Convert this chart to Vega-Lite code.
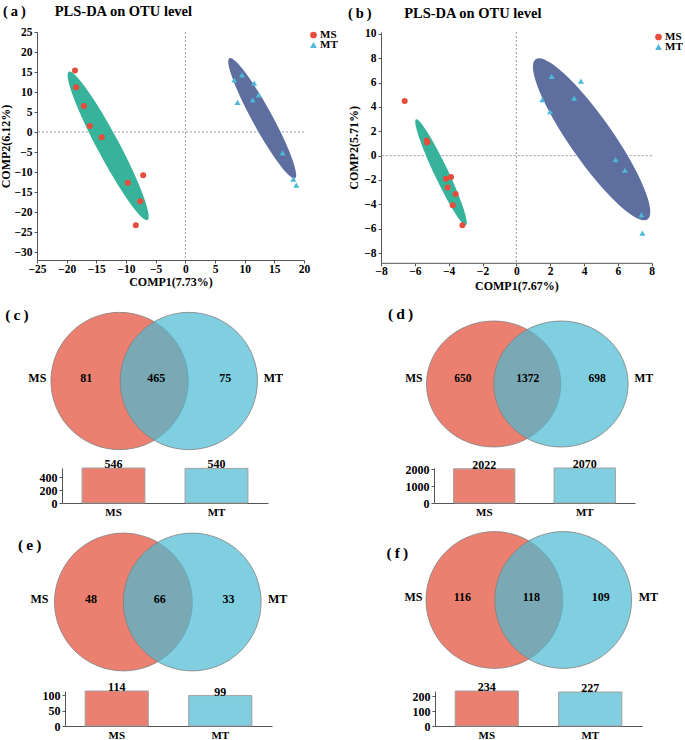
{
  "$schema": "https://vega.github.io/schema/vega-lite/v6.json",
  "background": "white",
  "padding": {"left": -1, "top": 4, "right": 0, "bottom": 0},
  "config": {
    "view": {"stroke": null},
    "font": "Liberation Serif",
    "axis": {"labelFont": "Liberation Serif", "titleFont": "Liberation Serif", "labelFontWeight": "bold", "titleFontWeight": "bold", "labelColor": "#000", "titleColor": "#000", "domainColor": "#555", "tickColor": "#555", "tickSize": 3, "labelPadding": 2, "grid": false, "labelFontSize": 11.5, "titleFontSize": 12, "labelOverlap": false, "labelFlush": false},
    "legend": {"labelFont": "Liberation Serif", "labelFontWeight": "bold", "labelFontSize": 11, "labelColor": "#000"},
    "title": {"font": "Liberation Serif", "fontWeight": "bold", "color": "#000"},
    "text": {"font": "Liberation Serif", "fontWeight": "bold", "fontSize": 12, "color": "#000"}
  },
  "resolve": {"scale": {"color": "independent", "shape": "independent"}, "legend": {"color": "independent", "shape": "independent"}},
  "spacing": 0,
  "vconcat": [
    {
      "bounds": "flush",
      "spacing": 0,
      "resolve": {"scale": {"color": "independent", "shape": "independent"}, "legend": {"color": "independent", "shape": "independent"}},
      "hconcat": [
        {"width": 36, "height": 1, "data": {"values": []}, "mark": "point"},
        {
          "width": 267, "height": 228,
          "title": {"text": "(\u2009a\u2009)\u00a0\u00a0\u00a0\u00a0\u00a0\u00a0\u00a0\u00a0PLS-DA on OTU level", "anchor": "start", "frame": "group", "dx": -34, "dy": 19.5, "offset": 12, "fontSize": 14.5, "baseline": "bottom"},
          "layer": [
            {"data": {"values": [{"ref": 0}]}, "mark": {"type": "rule", "strokeDash": [2, 2], "color": "#9a9a9a", "strokeWidth": 1},
             "encoding": {"x": {"datum": 0, "type": "quantitative", "scale": {"domain": [-25, 20], "nice": false, "zero": false}, "axis": {"values": [-25, -20, -15, -10, -5, 0, 5, 10, 15, 20], "title": "COMP1(7.73%)", "titlePadding": 2, "labelPadding": 0, "labelOverlap": false}}}},
            {"data": {"values": [{"ref": 0}]}, "mark": {"type": "rule", "strokeDash": [2, 2], "color": "#9a9a9a", "strokeWidth": 1},
             "encoding": {"y": {"datum": 0, "type": "quantitative", "scale": {"domain": [-32, 25], "nice": false, "zero": false}, "axis": {"values": [-30, -25, -20, -15, -10, -5, 0, 5, 10, 15, 20, 25], "title": "COMP2(6.12%)", "titlePadding": 1, "labelOverlap": false}}}},
            {"data": {"values": [{"group": "MS", "comp1": -13.0, "comp2": -3.47}]},
             "mark": {"type": "point", "shape": "M -1 0 A 1 0.131 0 1 0 1 0 A 1 0.131 0 1 0 -1 0 Z", "size": 28224, "angle": 62, "filled": true, "fill": "#36B39A", "opacity": 1},
             "encoding": {
               "x": {"field": "comp1", "type": "quantitative", "scale": {"domain": [-25, 20], "nice": false, "zero": false}, "axis": {"values": [-25, -20, -15, -10, -5, 0, 5, 10, 15, 20], "title": "COMP1(7.73%)", "titlePadding": 2, "labelPadding": 0, "labelOverlap": false}},
               "y": {"field": "comp2", "type": "quantitative", "scale": {"domain": [-32, 25], "nice": false, "zero": false}, "axis": {"values": [-30, -25, -20, -15, -10, -5, 0, 5, 10, 15, 20, 25], "title": "COMP2(6.12%)", "titlePadding": 1, "labelOverlap": false}}
             }},
            {"data": {"values": [{"group": "MT", "comp1": 12.96, "comp2": 3.43}]},
             "mark": {"type": "point", "shape": "M -1 0 A 1 0.146 0 1 0 1 0 A 1 0.146 0 1 0 -1 0 Z", "size": 18714, "angle": 61.3, "filled": true, "fill": "#5D6E9F", "opacity": 1},
             "encoding": {
               "x": {"field": "comp1", "type": "quantitative", "scale": {"domain": [-25, 20], "nice": false, "zero": false}, "axis": {"values": [-25, -20, -15, -10, -5, 0, 5, 10, 15, 20], "title": "COMP1(7.73%)", "titlePadding": 2, "labelPadding": 0, "labelOverlap": false}},
               "y": {"field": "comp2", "type": "quantitative", "scale": {"domain": [-32, 25], "nice": false, "zero": false}, "axis": {"values": [-30, -25, -20, -15, -10, -5, 0, 5, 10, 15, 20, 25], "title": "COMP2(6.12%)", "titlePadding": 1, "labelOverlap": false}}
             }},
            {"data": {"values": [
               {"group": "MS", "comp1": -18.6, "comp2": 15.4}, {"group": "MS", "comp1": -18.4, "comp2": 11.2}, {"group": "MS", "comp1": -17.1, "comp2": 6.5},
               {"group": "MS", "comp1": -16.1, "comp2": 1.5}, {"group": "MS", "comp1": -14.1, "comp2": -1.3}, {"group": "MS", "comp1": -9.7, "comp2": -12.7},
               {"group": "MS", "comp1": -7.1, "comp2": -10.8}, {"group": "MS", "comp1": -7.6, "comp2": -17.3}, {"group": "MS", "comp1": -8.35, "comp2": -23.3},
               {"group": "MT", "comp1": 8.26, "comp2": 13.0}, {"group": "MT", "comp1": 9.55, "comp2": 14.3}, {"group": "MT", "comp1": 11.6, "comp2": 12.2},
               {"group": "MT", "comp1": 8.8, "comp2": 7.4}, {"group": "MT", "comp1": 11.35, "comp2": 8.0}, {"group": "MT", "comp1": 12.37, "comp2": 9.27},
               {"group": "MT", "comp1": 16.4, "comp2": -5.2}, {"group": "MT", "comp1": 18.2, "comp2": -11.8}, {"group": "MT", "comp1": 18.7, "comp2": -13.3}
             ]},
             "mark": {"type": "point", "filled": true, "opacity": 1, "size": 36},
             "encoding": {
               "x": {"field": "comp1", "type": "quantitative", "scale": {"domain": [-25, 20], "nice": false, "zero": false}, "axis": {"values": [-25, -20, -15, -10, -5, 0, 5, 10, 15, 20], "title": "COMP1(7.73%)", "titlePadding": 2, "labelPadding": 0, "labelOverlap": false}},
               "y": {"field": "comp2", "type": "quantitative", "scale": {"domain": [-32, 25], "nice": false, "zero": false}, "axis": {"values": [-30, -25, -20, -15, -10, -5, 0, 5, 10, 15, 20, 25], "title": "COMP2(6.12%)", "titlePadding": 1, "labelOverlap": false}},
               "color": {"field": "group", "type": "nominal", "scale": {"domain": ["MS", "MT"], "range": ["#E84C3D", "#4DB8D9"]}, "legend": {"orient": "none", "legendX": 271, "legendY": -2, "title": null, "symbolSize": 45, "clipHeight": 10, "rowPadding": -1, "padding": 0, "labelOffset": 1}},
               "shape": {"field": "group", "type": "nominal", "scale": {"domain": ["MS", "MT"], "range": ["circle", "triangle-up"]}, "legend": {"orient": "none", "legendX": 271, "legendY": -2, "title": null, "symbolSize": 45, "clipHeight": 10, "rowPadding": -1, "padding": 0, "labelOffset": 1}}
             }}
          ]
        },
        {"width": 76.3, "height": 1, "data": {"values": []}, "mark": "point"},
        {
          "width": 270.7, "height": 230.8,
          "title": {"text": "(\u2009b\u2009)\u00a0\u00a0\u00a0\u00a0\u00a0\u00a0\u00a0\u00a0\u00a0PLS-DA on OTU level", "anchor": "start", "frame": "group", "dx": -33, "dy": 19.5, "offset": 12, "fontSize": 14.5, "baseline": "bottom"},
          "layer": [
            {"data": {"values": [{"ref": 0}]}, "mark": {"type": "rule", "strokeDash": [2, 2], "color": "#9a9a9a", "strokeWidth": 1},
             "encoding": {"x": {"datum": 0, "type": "quantitative", "scale": {"domain": [-8, 8], "nice": false, "zero": false}, "axis": {"values": [-8, -6, -4, -2, 0, 2, 4, 6, 8], "title": "COMP1(7.67%)", "titlePadding": 3, "labelPadding": 0, "labelOverlap": false}}}},
            {"data": {"values": [{"ref": 0}]}, "mark": {"type": "rule", "strokeDash": [2, 2], "color": "#9a9a9a", "strokeWidth": 1},
             "encoding": {"y": {"datum": 0, "type": "quantitative", "scale": {"domain": [-8.8, 10.15], "nice": false, "zero": false}, "axis": {"values": [-8, -6, -4, -2, 0, 2, 4, 6, 8, 10], "title": "COMP2(5.71%)", "titlePadding": 3, "labelOverlap": false}}}},
            {"data": {"values": [{"group": "MS", "comp1": -4.45, "comp2": -1.37}]},
             "mark": {"type": "point", "shape": "M -1 0 A 1 0.119 0 1 0 1 0 A 1 0.119 0 1 0 -1 0 Z", "size": 13736, "angle": 64.7, "filled": true, "fill": "#36B39A", "opacity": 1},
             "encoding": {
               "x": {"field": "comp1", "type": "quantitative", "scale": {"domain": [-8, 8], "nice": false, "zero": false}, "axis": {"values": [-8, -6, -4, -2, 0, 2, 4, 6, 8], "title": "COMP1(7.67%)", "titlePadding": 3, "labelPadding": 0, "labelOverlap": false}},
               "y": {"field": "comp2", "type": "quantitative", "scale": {"domain": [-8.8, 10.15], "nice": false, "zero": false}, "axis": {"values": [-8, -6, -4, -2, 0, 2, 4, 6, 8, 10], "title": "COMP2(5.71%)", "titlePadding": 3, "labelOverlap": false}}
             }},
            {"data": {"values": [{"group": "MT", "comp1": 4.45, "comp2": 1.34}]},
             "mark": {"type": "point", "shape": "M -1 0 A 1 0.22 0 1 0 1 0 A 1 0.22 0 1 0 -1 0 Z", "size": 38181, "angle": 55, "filled": true, "fill": "#5D6E9F", "opacity": 1},
             "encoding": {
               "x": {"field": "comp1", "type": "quantitative", "scale": {"domain": [-8, 8], "nice": false, "zero": false}, "axis": {"values": [-8, -6, -4, -2, 0, 2, 4, 6, 8], "title": "COMP1(7.67%)", "titlePadding": 3, "labelPadding": 0, "labelOverlap": false}},
               "y": {"field": "comp2", "type": "quantitative", "scale": {"domain": [-8.8, 10.15], "nice": false, "zero": false}, "axis": {"values": [-8, -6, -4, -2, 0, 2, 4, 6, 8, 10], "title": "COMP2(5.71%)", "titlePadding": 3, "labelOverlap": false}}
             }},
            {"data": {"values": [
               {"group": "MS", "comp1": -6.6, "comp2": 4.48}, {"group": "MS", "comp1": -5.3, "comp2": 1.25}, {"group": "MS", "comp1": -5.27, "comp2": 1.07},
               {"group": "MS", "comp1": -4.16, "comp2": -1.89}, {"group": "MS", "comp1": -3.86, "comp2": -1.75}, {"group": "MS", "comp1": -4.06, "comp2": -2.62},
               {"group": "MS", "comp1": -3.59, "comp2": -3.15}, {"group": "MS", "comp1": -3.76, "comp2": -4.07}, {"group": "MS", "comp1": -3.19, "comp2": -5.71},
               {"group": "MT", "comp1": 2.09, "comp2": 6.5}, {"group": "MT", "comp1": 3.82, "comp2": 6.11}, {"group": "MT", "comp1": 1.54, "comp2": 4.59},
               {"group": "MT", "comp1": 3.41, "comp2": 4.72}, {"group": "MT", "comp1": 1.99, "comp2": 3.6}, {"group": "MT", "comp1": 5.87, "comp2": -0.33},
               {"group": "MT", "comp1": 6.42, "comp2": -1.2}, {"group": "MT", "comp1": 7.39, "comp2": -4.87}, {"group": "MT", "comp1": 7.45, "comp2": -6.37}
             ]},
             "mark": {"type": "point", "filled": true, "opacity": 1, "size": 36},
             "encoding": {
               "x": {"field": "comp1", "type": "quantitative", "scale": {"domain": [-8, 8], "nice": false, "zero": false}, "axis": {"values": [-8, -6, -4, -2, 0, 2, 4, 6, 8], "title": "COMP1(7.67%)", "titlePadding": 3, "labelPadding": 0, "labelOverlap": false}},
               "y": {"field": "comp2", "type": "quantitative", "scale": {"domain": [-8.8, 10.15], "nice": false, "zero": false}, "axis": {"values": [-8, -6, -4, -2, 0, 2, 4, 6, 8, 10], "title": "COMP2(5.71%)", "titlePadding": 3, "labelOverlap": false}},
               "color": {"field": "group", "type": "nominal", "scale": {"domain": ["MS", "MT"], "range": ["#E84C3D", "#4DB8D9"]}, "legend": {"orient": "none", "legendX": 272, "legendY": 0, "title": null, "symbolSize": 45, "clipHeight": 10, "rowPadding": -1, "padding": 0, "labelOffset": 1}},
               "shape": {"field": "group", "type": "nominal", "scale": {"domain": ["MS", "MT"], "range": ["circle", "triangle-up"]}, "legend": {"orient": "none", "legendX": 272, "legendY": 0, "title": null, "symbolSize": 45, "clipHeight": 10, "rowPadding": -1, "padding": 0, "labelOffset": 1}}
             }}
          ]
        }
      ]
    },
    {"width": 1, "height": 14.9, "data": {"values": []}, "mark": "point"},
    {
      "bounds": "flush",
      "spacing": 0,
      "hconcat": [
        {"width": 83.7, "height": 1, "data": {"values": []}, "mark": "point"},
        {
          "width": 138.4, "height": 140,
          "title": {"text": "(\u2009c\u2009)", "anchor": "start", "frame": "group", "dx": -79.7, "dy": 20, "offset": 0, "baseline": "middle", "fontSize": 15.5},
          "data": {"values": [{"region": "MS", "count": 81}, {"region": "both", "count": 465}, {"region": "MT", "count": 75}]},
          "encoding": {"x": {"field": "region", "type": "nominal", "scale": {"type": "point", "domain": ["MS", "both", "MT"], "padding": 1}, "axis": null}},
          "layer": [
            {"transform": [{"filter": "datum.region === 'MS'"}], "mark": {"type": "point", "shape": "circle", "filled": true, "size": 18851, "fill": "#EC8070", "fillOpacity": 1, "opacity": 1, "stroke": "#808080", "strokeWidth": 0.8}},
            {"transform": [{"filter": "datum.region === 'MT'"}], "mark": {"type": "point", "shape": "circle", "filled": true, "size": 18851, "fill": "#4ABAD3", "fillOpacity": 0.7, "opacity": 1, "stroke": "#808080", "strokeWidth": 0.8}},
            {"transform": [{"filter": "datum.region === 'MS'"}], "mark": {"type": "text", "dx": -82.3, "dy": -3}, "encoding": {"text": {"field": "region", "type": "nominal"}}},
            {"transform": [{"filter": "datum.region === 'MS'"}], "mark": {"type": "text", "dx": -33.3, "dy": -3}, "encoding": {"text": {"field": "count", "type": "quantitative", "format": "d"}}},
            {"transform": [{"filter": "datum.region === 'both'"}], "mark": {"type": "text", "dx": 2, "dy": -3}, "encoding": {"text": {"field": "count", "type": "quantitative", "format": "d"}}},
            {"transform": [{"filter": "datum.region === 'MT'"}], "mark": {"type": "text", "dx": 36.5, "dy": -3}, "encoding": {"text": {"field": "count", "type": "quantitative", "format": "d"}}},
            {"transform": [{"filter": "datum.region === 'MT'"}], "mark": {"type": "text", "dx": 84.5, "dy": -3}, "encoding": {"text": {"field": "region", "type": "nominal"}}}
          ]
        },
        {"width": 235.75, "height": 1, "data": {"values": []}, "mark": "point"},
        {
          "width": 134.6, "height": 146,
          "title": {"text": "(\u2009d\u2009)", "anchor": "start", "frame": "group", "dx": -72, "dy": 18.8, "offset": 0, "baseline": "middle", "fontSize": 15.5},
          "data": {"values": [{"region": "MS", "count": 650}, {"region": "both", "count": 1372}, {"region": "MT", "count": 698}]},
          "encoding": {"x": {"field": "region", "type": "nominal", "scale": {"type": "point", "domain": ["MS", "both", "MT"], "padding": 1}, "axis": null}},
          "layer": [
            {"transform": [{"filter": "datum.region === 'MS'"}], "mark": {"type": "point", "shape": "M -1 0 A 1 0.938 0 1 0 1 0 A 1 0.938 0 1 0 -1 0 Z", "filled": true, "size": 18036, "fill": "#EC8070", "fillOpacity": 1, "opacity": 1, "stroke": "#808080", "strokeWidth": 0.8}},
            {"transform": [{"filter": "datum.region === 'MT'"}], "mark": {"type": "point", "shape": "M -1 0 A 1 0.938 0 1 0 1 0 A 1 0.938 0 1 0 -1 0 Z", "filled": true, "size": 18036, "fill": "#4ABAD3", "fillOpacity": 0.7, "opacity": 1, "stroke": "#808080", "strokeWidth": 0.8}},
            {"transform": [{"filter": "datum.region === 'MS'"}], "mark": {"type": "text", "dx": -79.8, "dy": -5, "fontSize": 11.5}, "encoding": {"text": {"field": "region", "type": "nominal"}}},
            {"transform": [{"filter": "datum.region === 'MS'"}], "mark": {"type": "text", "dx": -30.8, "dy": -5, "fontSize": 11.5}, "encoding": {"text": {"field": "count", "type": "quantitative", "format": "d"}}},
            {"transform": [{"filter": "datum.region === 'both'"}], "mark": {"type": "text", "dx": 0.5, "dy": -5, "fontSize": 11.5}, "encoding": {"text": {"field": "count", "type": "quantitative", "format": "d"}}},
            {"transform": [{"filter": "datum.region === 'MT'"}], "mark": {"type": "text", "dx": 36.2, "dy": -5, "fontSize": 11.5}, "encoding": {"text": {"field": "count", "type": "quantitative", "format": "d"}}},
            {"transform": [{"filter": "datum.region === 'MT'"}], "mark": {"type": "text", "dx": 82.9, "dy": -5, "fontSize": 11.5}, "encoding": {"text": {"field": "region", "type": "nominal"}}}
          ]
        }
      ]
    },
    {"width": 1, "height": 1, "data": {"values": []}, "mark": "point"},
    {
      "bounds": "flush",
      "spacing": 0,
      "hconcat": [
        {"width": 61, "height": 1, "data": {"values": []}, "mark": "point"},
        {
          "width": 206, "height": 35,
          "data": {"values": [{"set": "MS", "total": 546}, {"set": "MT", "total": 540}]},
          "encoding": {
            "x": {"field": "set", "type": "nominal", "scale": {"paddingInner": 0.39, "paddingOuter": 0.195}, "axis": {"title": null, "labelAngle": 0, "ticks": false, "labelFontSize": 11, "labelPadding": 3}},
            "y": {"field": "total", "type": "quantitative", "scale": {"domain": [0, 546], "nice": false}, "axis": {"title": null, "values": [0, 200, 400], "format": "d", "labelFontSize": 12}}
          },
          "layer": [
            {"mark": {"type": "bar", "stroke": "#a0a0a0", "strokeWidth": 1}, "encoding": {"fill": {"field": "set", "type": "nominal", "scale": {"domain": ["MS", "MT"], "range": ["#EC8070", "#80CEE0"]}, "legend": null}}},
            {"mark": {"type": "text", "baseline": "alphabetic", "dy": 0}, "encoding": {"text": {"field": "total", "type": "quantitative", "format": "d"}}}
          ]
        },
        {"width": 165.7, "height": 1, "data": {"values": []}, "mark": "point"},
        {
          "width": 201, "height": 35,
          "data": {"values": [{"set": "MS", "total": 2022}, {"set": "MT", "total": 2070}]},
          "encoding": {
            "x": {"field": "set", "type": "nominal", "scale": {"paddingInner": 0.39, "paddingOuter": 0.195}, "axis": {"title": null, "labelAngle": 0, "ticks": false, "labelFontSize": 11, "labelPadding": 3}},
            "y": {"field": "total", "type": "quantitative", "scale": {"domain": [0, 2070], "nice": false}, "axis": {"title": null, "values": [0, 1000, 2000], "format": "d", "labelFontSize": 12}}
          },
          "layer": [
            {"mark": {"type": "bar", "stroke": "#a0a0a0", "strokeWidth": 1}, "encoding": {"fill": {"field": "set", "type": "nominal", "scale": {"domain": ["MS", "MT"], "range": ["#EC8070", "#80CEE0"]}, "legend": null}}},
            {"mark": {"type": "text", "baseline": "alphabetic", "dy": 0}, "encoding": {"text": {"field": "total", "type": "quantitative", "format": "d"}}}
          ]
        }
      ]
    },
    {"width": 1, "height": 13, "data": {"values": []}, "mark": "point"},
    {
      "bounds": "flush",
      "spacing": 0,
      "hconcat": [
        {"width": 87.3, "height": 1, "data": {"values": []}, "mark": "point"},
        {
          "width": 137.6, "height": 140,
          "title": {"text": "(\u2009e\u2009)", "anchor": "start", "frame": "group", "dx": -71, "dy": 29, "offset": 0, "baseline": "middle", "fontSize": 15.5},
          "data": {"values": [{"region": "MS", "count": 48}, {"region": "both", "count": 66}, {"region": "MT", "count": 33}]},
          "encoding": {"x": {"field": "region", "type": "nominal", "scale": {"type": "point", "domain": ["MS", "both", "MT"], "padding": 1}, "axis": null}},
          "layer": [
            {"transform": [{"filter": "datum.region === 'MS'"}], "mark": {"type": "point", "shape": "circle", "filled": true, "size": 18989, "fill": "#EC8070", "fillOpacity": 1, "opacity": 1, "stroke": "#808080", "strokeWidth": 0.8}},
            {"transform": [{"filter": "datum.region === 'MT'"}], "mark": {"type": "point", "shape": "circle", "filled": true, "size": 18989, "fill": "#4ABAD3", "fillOpacity": 0.7, "opacity": 1, "stroke": "#808080", "strokeWidth": 0.8}},
            {"transform": [{"filter": "datum.region === 'MS'"}], "mark": {"type": "text", "dx": -84, "dy": -2.8}, "encoding": {"text": {"field": "region", "type": "nominal"}}},
            {"transform": [{"filter": "datum.region === 'MS'"}], "mark": {"type": "text", "dx": -32.4, "dy": -2.8}, "encoding": {"text": {"field": "count", "type": "quantitative", "format": "d"}}},
            {"transform": [{"filter": "datum.region === 'both'"}], "mark": {"type": "text", "dx": 1.9, "dy": -2.8}, "encoding": {"text": {"field": "count", "type": "quantitative", "format": "d"}}},
            {"transform": [{"filter": "datum.region === 'MT'"}], "mark": {"type": "text", "dx": 36.2, "dy": -2.8}, "encoding": {"text": {"field": "count", "type": "quantitative", "format": "d"}}},
            {"transform": [{"filter": "datum.region === 'MT'"}], "mark": {"type": "text", "dx": 85.5, "dy": -2.8}, "encoding": {"text": {"field": "region", "type": "nominal"}}}
          ]
        },
        {"width": 232.7, "height": 1, "data": {"values": []}, "mark": "point"},
        {
          "width": 137.6, "height": 136,
          "title": {"text": "(\u2009f\u2009)", "anchor": "start", "frame": "group", "dx": -73.6, "dy": 38, "offset": 0, "baseline": "middle", "fontSize": 15.5},
          "data": {"values": [{"region": "MS", "count": 116}, {"region": "both", "count": 118}, {"region": "MT", "count": 109}]},
          "encoding": {"x": {"field": "region", "type": "nominal", "scale": {"type": "point", "domain": ["MS", "both", "MT"], "padding": 1}, "axis": null}},
          "layer": [
            {"transform": [{"filter": "datum.region === 'MS'"}], "mark": {"type": "point", "shape": "circle", "filled": true, "size": 18714, "fill": "#EC8070", "fillOpacity": 1, "opacity": 1, "stroke": "#808080", "strokeWidth": 0.8}},
            {"transform": [{"filter": "datum.region === 'MT'"}], "mark": {"type": "point", "shape": "circle", "filled": true, "size": 18714, "fill": "#4ABAD3", "fillOpacity": 0.7, "opacity": 1, "stroke": "#808080", "strokeWidth": 0.8}},
            {"transform": [{"filter": "datum.region === 'MS'"}], "mark": {"type": "text", "dx": -81, "dy": -3.5}, "encoding": {"text": {"field": "region", "type": "nominal"}}},
            {"transform": [{"filter": "datum.region === 'MS'"}], "mark": {"type": "text", "dx": -32, "dy": -3.5}, "encoding": {"text": {"field": "count", "type": "quantitative", "format": "d"}}},
            {"transform": [{"filter": "datum.region === 'both'"}], "mark": {"type": "text", "dx": 2.6, "dy": -3.5}, "encoding": {"text": {"field": "count", "type": "quantitative", "format": "d"}}},
            {"transform": [{"filter": "datum.region === 'MT'"}], "mark": {"type": "text", "dx": 37.5, "dy": -3.5}, "encoding": {"text": {"field": "count", "type": "quantitative", "format": "d"}}},
            {"transform": [{"filter": "datum.region === 'MT'"}], "mark": {"type": "text", "dx": 85.2, "dy": -3.5}, "encoding": {"text": {"field": "region", "type": "nominal"}}}
          ]
        }
      ]
    },
    {"width": 1, "height": 8, "data": {"values": []}, "mark": "point"},
    {
      "bounds": "flush",
      "spacing": 0,
      "hconcat": [
        {"width": 63.3, "height": 1, "data": {"values": []}, "mark": "point"},
        {
          "width": 207, "height": 35,
          "data": {"values": [{"set": "MS", "total": 114}, {"set": "MT", "total": 99}]},
          "encoding": {
            "x": {"field": "set", "type": "nominal", "scale": {"paddingInner": 0.39, "paddingOuter": 0.195}, "axis": {"title": null, "labelAngle": 0, "ticks": false, "labelFontSize": 11, "labelPadding": 3}},
            "y": {"field": "total", "type": "quantitative", "scale": {"domain": [0, 114], "nice": false}, "axis": {"title": null, "values": [0, 50, 100], "format": "d", "labelFontSize": 12}}
          },
          "layer": [
            {"mark": {"type": "bar", "stroke": "#a0a0a0", "strokeWidth": 1}, "encoding": {"fill": {"field": "set", "type": "nominal", "scale": {"domain": ["MS", "MT"], "range": ["#EC8070", "#80CEE0"]}, "legend": null}}},
            {"mark": {"type": "text", "baseline": "alphabetic", "dy": 0}, "encoding": {"text": {"field": "total", "type": "quantitative", "format": "d"}}}
          ]
        },
        {"width": 162.4, "height": 1, "data": {"values": []}, "mark": "point"},
        {
          "width": 207, "height": 35,
          "data": {"values": [{"set": "MS", "total": 234}, {"set": "MT", "total": 227}]},
          "encoding": {
            "x": {"field": "set", "type": "nominal", "scale": {"paddingInner": 0.39, "paddingOuter": 0.195}, "axis": {"title": null, "labelAngle": 0, "ticks": false, "labelFontSize": 11, "labelPadding": 3}},
            "y": {"field": "total", "type": "quantitative", "scale": {"domain": [0, 234], "nice": false}, "axis": {"title": null, "values": [0, 100, 200], "format": "d", "labelFontSize": 12}}
          },
          "layer": [
            {"mark": {"type": "bar", "stroke": "#a0a0a0", "strokeWidth": 1}, "encoding": {"fill": {"field": "set", "type": "nominal", "scale": {"domain": ["MS", "MT"], "range": ["#EC8070", "#80CEE0"]}, "legend": null}}},
            {"mark": {"type": "text", "baseline": "alphabetic", "dy": 0}, "encoding": {"text": {"field": "total", "type": "quantitative", "format": "d"}}}
          ]
        }
      ]
    }
  ]
}
